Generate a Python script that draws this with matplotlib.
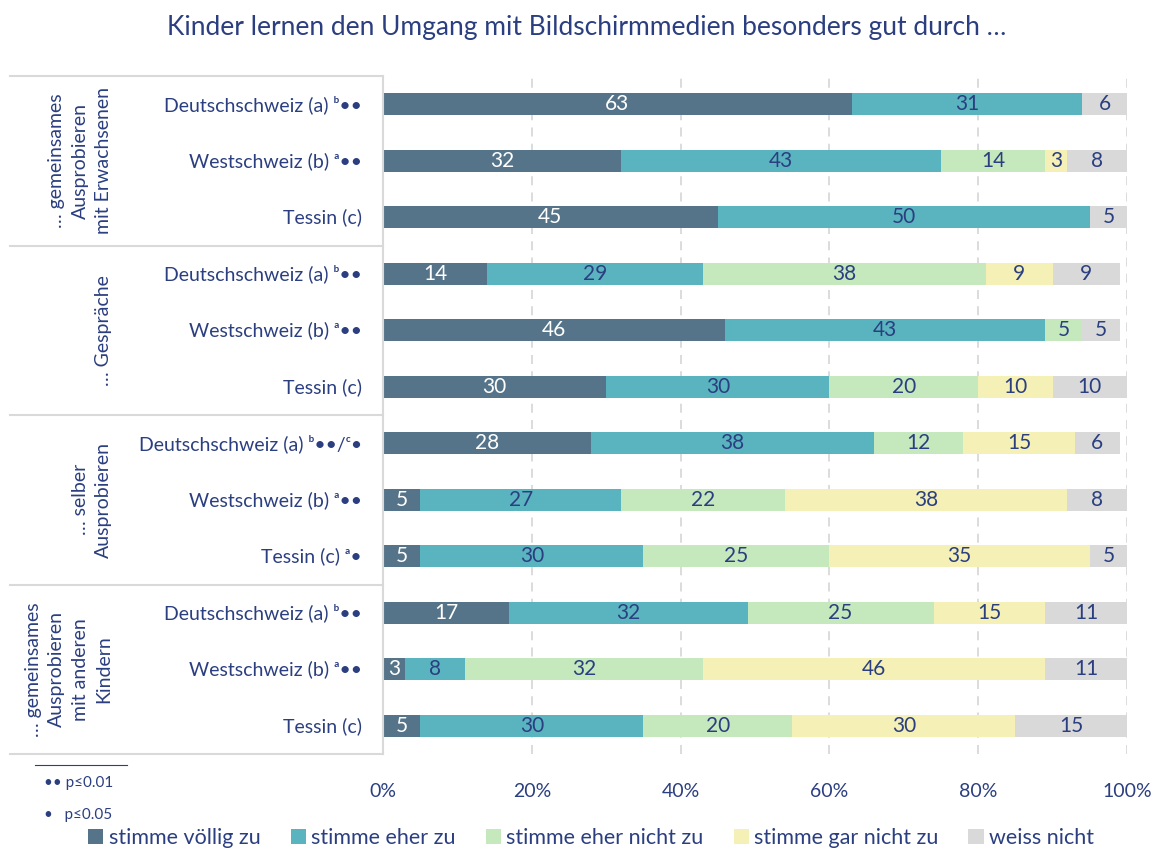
import matplotlib.pyplot as plt
from matplotlib.transforms import blended_transform_factory
from matplotlib.lines import Line2D
from matplotlib.patches import Patch

plt.rcParams['font.family'] = ['Lato', 'DejaVu Sans']

title = "Kinder lernen den Umgang mit Bildschirmmedien besonders gut durch …"
groups = ["… gemeinsames\nAusprobieren\nmit Erwachsenen",
          "… Gespräche",
          "… selber\nAusprobieren",
          "… gemeinsames\nAusprobieren\nmit anderen\nKindern"]
rows = ["Deutschschweiz (a) ᵇ••", "Westschweiz (b) ᵃ••", "Tessin (c)",
        "Deutschschweiz (a) ᵇ••", "Westschweiz (b) ᵃ••", "Tessin (c)",
        "Deutschschweiz (a) ᵇ••/ᶜ•", "Westschweiz (b) ᵃ••", "Tessin (c) ᵃ•",
        "Deutschschweiz (a) ᵇ••", "Westschweiz (b) ᵃ••", "Tessin (c)"]
categories = ["stimme völlig zu", "stimme eher zu", "stimme eher nicht zu",
              "stimme gar nicht zu", "weiss nicht"]

voellig = [63, 32, 45, 14, 46, 30, 28, 5, 5, 17, 3, 5]
eher = [31, 43, 50, 29, 43, 30, 38, 27, 30, 32, 8, 30]
eher_nicht = [0, 14, 0, 38, 5, 20, 12, 22, 25, 25, 32, 20]
gar_nicht = [0, 3, 0, 9, 0, 10, 15, 38, 35, 15, 46, 30]
weiss_nicht = [6, 8, 5, 9, 5, 10, 6, 8, 5, 11, 11, 15]

series = [voellig, eher, eher_nicht, gar_nicht, weiss_nicht]
colors = ['#567489', '#5AB4C0', '#C5E9BC', '#F5F0B5', '#D9D9D9']
label_colors = ['white', '#2B3F80', '#2B3F80', '#2B3F80', '#2B3F80']
navy = '#2B3F80'
line_grey = '#D9D9D9'

W, H = 1159, 851
fig = plt.figure(figsize=(W / 100, H / 100), dpi=100)
ax = fig.add_axes([383 / W, 1 - 754 / H, 744 / W, 678 / H])

y = list(range(len(rows)))
left = [0] * len(rows)
for vals, col, tcol in zip(series, colors, label_colors):
    ax.barh(y, vals, left=left, height=0.39, color=col, zorder=2)
    for yi, v, l0 in zip(y, vals, left):
        if v > 0:
            ax.text(l0 + v / 2, yi, str(v), ha='center', va='center',
                    color=tcol, fontsize=15, zorder=3)
    left = [a + b for a, b in zip(left, vals)]

ax.set_xlim(0, 100)
ax.set_ylim(len(rows) - 0.5, -0.5)
ax.set_xticks([0, 20, 40, 60, 80, 100])
ax.set_xticklabels([f"{t}%" for t in [0, 20, 40, 60, 80, 100]],
                   fontsize=14, color=navy)
ax.tick_params(axis='x', length=0, pad=21)
ax.set_yticks([])
ax.xaxis.grid(True, color=line_grey, linestyle=(0, (5, 4)), linewidth=1.3, zorder=0)
ax.set_axisbelow(True)
for s in ['top', 'right', 'bottom']:
    ax.spines[s].set_visible(False)
ax.spines['left'].set_color(line_grey)
ax.spines['left'].set_linewidth(1.5)

# row labels and group labels on the left
tr = blended_transform_factory(fig.transFigure, ax.transData)
for yi, name in zip(y, rows):
    ax.text(362 / W, yi, name, transform=tr, ha='right', va='center',
            fontsize=14, color=navy)

for gi, g in enumerate(groups):
    ax.text(112 / W, gi * 3 + 1, g, transform=tr, rotation=90,
            ha='right', va='center', multialignment='center',
            fontsize=14, color=navy, linespacing=1.45)

for sep in [-0.5, 2.5, 5.5, 8.5, 11.5]:
    fig.add_artist(Line2D([10 / W, 383 / W], [sep, sep], transform=tr,
                          color=line_grey, linewidth=1.5, clip_on=False))

fig.text(0.506, 1 - 28 / H, title, ha='center', va='center', fontsize=19, color=navy)

# significance footnote
fig.add_artist(Line2D([35 / W, 127 / W], [1 - 765 / H, 1 - 765 / H],
                      color=navy, linewidth=0.8))
fig.text(44 / W, 1 - 783 / H, "•• p≤0.01", ha='left', va='center', fontsize=11, color=navy)
fig.text(44 / W, 1 - 815 / H, "•   p≤0.05", ha='left', va='center', fontsize=11, color=navy)

handles = [Patch(facecolor=c) for c in colors]
fig.legend(handles, categories, loc='center', bbox_to_anchor=(0.51, 1 - 838 / H),
           ncol=5, frameon=False, fontsize=15.5, labelcolor=navy,
           handlelength=0.7, handleheight=0.7, handletextpad=0.25,
           columnspacing=1.4)

fig.savefig('out.png', dpi=100)
